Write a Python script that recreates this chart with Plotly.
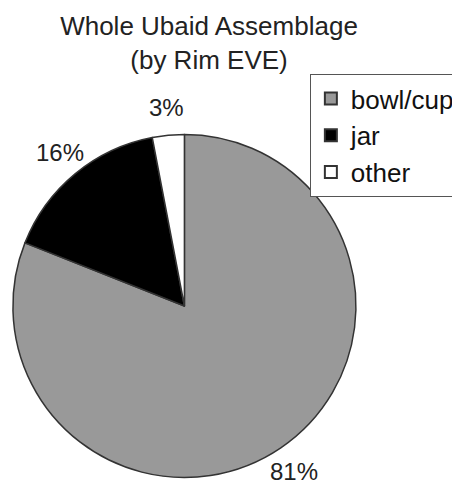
import math
import plotly.graph_objects as go

categories = ["bowl/cup", "jar", "other"]
values = [81, 16, 3]
colors = ["#999999", "#000000", "#ffffff"]

W, H = 452, 479  # page body adds an 8px margin
CX, CY, R = 180, 298, 175  # pie centre / radius in figure pixels
LABEL_R = 1.14              # label distance as a fraction of the radius

fig = go.Figure(go.Pie(
    labels=categories,
    values=values,
    sort=False,
    direction="clockwise",
    rotation=0,
    marker=dict(colors=colors, line=dict(color="#333333", width=1.5)),
    textinfo="none",
    domain=dict(x=[(CX - R) / W, (CX + R) / W], y=[1 - (CY + R) / H, 1 - (CY - R) / H]),
    showlegend=True,
    hoverinfo="label+percent",
))

# percentage labels placed outside each slice along its mid-angle
total = sum(values)
cum = 0.0
annotations = []
for v in values:
    mid = (cum + v / 2) / total * 2 * math.pi  # clockwise from 12 o'clock
    cum += v
    px = CX + LABEL_R * R * math.sin(mid)
    py = CY - LABEL_R * R * math.cos(mid)
    annotations.append(dict(
        x=px / W, y=1 - py / H, xref="paper", yref="paper",
        text=f"{v / total:.0%}", showarrow=False,
        xanchor="center", yanchor="middle", borderpad=0,
        font=dict(size=24, color="#222222"),
    ))

fig.update_layout(
    width=W, height=H,
    margin=dict(l=0, r=0, t=0, b=0),
    paper_bgcolor="white",
    plot_bgcolor="white",
    font=dict(family="Liberation Sans, Arial, sans-serif", color="#222222"),
    title=dict(
        text="Whole Ubaid Assemblage<br>(by Rim EVE)",
        x=201 / W, xanchor="center",
        y=1 - 27 / H, yanchor="top",
        font=dict(size=26, color="#222222"),
    ),
    legend=dict(
        x=308 / W, xanchor="left",
        y=1 - 66 / H, yanchor="top",
        font=dict(size=26, color="#111111"),
        bordercolor="#555555", borderwidth=1,
        bgcolor="white",
        itemsizing="constant",
        tracegroupgap=0,
    ),
    annotations=annotations,
)

fig.write_html("out.html")
